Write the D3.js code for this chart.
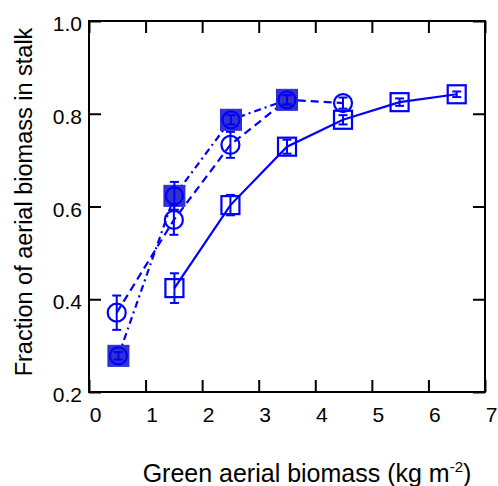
<!DOCTYPE html>
<html lang="en">
<head>
    <meta charset="UTF-8">
    <title>Stalk fraction vs green aerial biomass</title>
    <script src="https://cdn.jsdelivr.net/npm/d3@7"></script>
    <style>
        body { margin: 0; background: #fff; }
        text { font-family: Arial, "Liberation Sans", sans-serif; fill: #000; }
    </style>
</head>
<body>
<svg width="498" height="486"></svg>
<script>
// data
const xTicks = [0, 1, 2, 3, 4, 5, 6, 7];
const yTicks = [0.2, 0.4, 0.6, 0.8, 1.0];

// open circles, dashed line
const circX   = [0.49, 1.50, 2.50, 3.50, 4.49];
const circY   = [0.371, 0.571, 0.733, 0.830, 0.823];
const circErr = [0.037, 0.032, 0.028, 0.010, 0.012];

// filled squares, dash-dot line
const fillX   = [0.52, 1.51, 2.51, 3.50];
const fillY   = [0.278, 0.623, 0.787, 0.830];
const fillErr = [0.008, 0.030, 0.010, 0.010];

// open squares, solid line
const sqX   = [1.51, 2.50, 3.50, 4.49, 5.49, 6.50];
const sqY   = [0.424, 0.603, 0.729, 0.787, 0.825, 0.842];
const sqErr = [0.032, 0.022, 0.015, 0.010, 0.008, 0.006];

const blue = "#0000ff";
const plotL = 89, plotR = 485, plotT = 21, plotB = 392;

const svg = d3.select("svg");

const xScale = d3.scaleLinear().domain([0, 7]).range([plotL, plotR]);
const yScale = d3.scaleLinear().domain([0.2, 1.0]).range([plotB, plotT]);

function pts(xs, ys, es) {
    return xs.map((x, i) => ({x: x, y: ys[i], e: es[i]}));
}
const circles = pts(circX, circY, circErr);
const filled = pts(fillX, fillY, fillErr);
const squares = pts(sqX, sqY, sqErr);

// frame ticks, inward on all four sides
const tickLen = 12;
svg.append("g").attr("transform", "translate(0," + plotB + ")")
    .call(d3.axisBottom(xScale).tickValues(xTicks).tickSizeInner(-tickLen).tickSizeOuter(0).tickFormat(""))
    .call(g => g.select(".domain").remove());
svg.append("g").attr("transform", "translate(0," + plotT + ")")
    .call(d3.axisTop(xScale).tickValues(xTicks).tickSizeInner(-tickLen).tickSizeOuter(0).tickFormat(""))
    .call(g => g.select(".domain").remove());
svg.append("g").attr("transform", "translate(" + plotL + ",0)")
    .call(d3.axisLeft(yScale).tickValues(yTicks).tickSizeInner(-tickLen).tickSizeOuter(0).tickFormat(""))
    .call(g => g.select(".domain").remove());
svg.append("g").attr("transform", "translate(" + plotR + ",0)")
    .call(d3.axisRight(yScale).tickValues(yTicks).tickSizeInner(-tickLen).tickSizeOuter(0).tickFormat(""))
    .call(g => g.select(".domain").remove());
svg.selectAll(".tick line").attr("stroke", "#000").attr("stroke-width", 2);

svg.append("rect")
    .attr("x", plotL).attr("y", plotT)
    .attr("width", plotR - plotL).attr("height", plotB - plotT)
    .attr("fill", "none").attr("stroke", "#000").attr("stroke-width", 2);

// tick labels
svg.append("g").selectAll("text").data(xTicks).join("text")
    .attr("x", d => xScale(d) + 6.5)
    .attr("y", 422)
    .attr("text-anchor", "middle")
    .attr("font-size", 21)
    .text(d => d);
svg.append("g").selectAll("text").data(yTicks).join("text")
    .attr("x", 82)
    .attr("y", d => yScale(d) + 10)
    .attr("text-anchor", "end")
    .attr("font-size", 21)
    .text(d => d.toFixed(1));

// axis titles
const xt = svg.append("text")
    .attr("x", 307).attr("y", 482)
    .attr("text-anchor", "middle")
    .attr("font-size", 25);
xt.append("tspan").text("Green aerial biomass (kg m");
xt.append("tspan").attr("font-size", 15).attr("dy", -10).text("-2");
xt.append("tspan").attr("dy", 10).text(")");

svg.append("text")
    .attr("transform", "translate(32,202) rotate(-90)")
    .attr("text-anchor", "middle")
    .attr("font-size", 23.5)
    .text("Fraction of aerial biomass in stalk");

// lines
const line = d3.line().x(d => xScale(d.x)).y(d => yScale(d.y));
svg.append("path").datum(squares).attr("d", line)
    .attr("fill", "none").attr("stroke", blue).attr("stroke-width", 2.2);
svg.append("path").datum(circles).attr("d", line)
    .attr("fill", "none").attr("stroke", blue).attr("stroke-width", 2.2)
    .attr("stroke-dasharray", "8,5");
svg.append("path").datum(filled).attr("d", line)
    .attr("fill", "none").attr("stroke", blue).attr("stroke-width", 2.2)
    .attr("stroke-dasharray", "7,4,2,4");

// markers
svg.append("g").selectAll("rect").data(squares).join("rect")
    .attr("x", d => xScale(d.x) - 9).attr("y", d => yScale(d.y) - 9)
    .attr("width", 18).attr("height", 18)
    .attr("fill", "none").attr("stroke", blue).attr("stroke-width", 2.2);

svg.append("g").selectAll("circle").data(circles).join("circle")
    .attr("cx", d => xScale(d.x)).attr("cy", d => yScale(d.y))
    .attr("r", 9)
    .attr("fill", "none").attr("stroke", blue).attr("stroke-width", 2.2);

const fm = svg.append("g").selectAll("g").data(filled).join("g")
    .attr("transform", d => "translate(" + xScale(d.x) + "," + yScale(d.y) + ")");
fm.append("rect")
    .attr("x", -10.5).attr("y", -10.5).attr("width", 21).attr("height", 21)
    .attr("fill", "#3333cc").attr("stroke", "#2a2ad8").attr("stroke-width", 1);
fm.append("circle")
    .attr("r", 8.5)
    .attr("fill", "none").attr("stroke", blue).attr("stroke-width", 2.2);

// error bars
function errorBars(data) {
    const g = svg.append("g").attr("stroke", blue).attr("stroke-width", 2);
    g.selectAll("line.v").data(data).join("line").attr("class", "v")
        .attr("x1", d => xScale(d.x)).attr("x2", d => xScale(d.x))
        .attr("y1", d => yScale(d.y - d.e)).attr("y2", d => yScale(d.y + d.e));
    g.selectAll("line.t").data(data).join("line").attr("class", "t")
        .attr("x1", d => xScale(d.x) - 4.5).attr("x2", d => xScale(d.x) + 4.5)
        .attr("y1", d => yScale(d.y + d.e)).attr("y2", d => yScale(d.y + d.e));
    g.selectAll("line.b").data(data).join("line").attr("class", "b")
        .attr("x1", d => xScale(d.x) - 4.5).attr("x2", d => xScale(d.x) + 4.5)
        .attr("y1", d => yScale(d.y - d.e)).attr("y2", d => yScale(d.y - d.e));
}
errorBars(squares);
errorBars(circles);
errorBars(filled);
</script>
</body>
</html>
